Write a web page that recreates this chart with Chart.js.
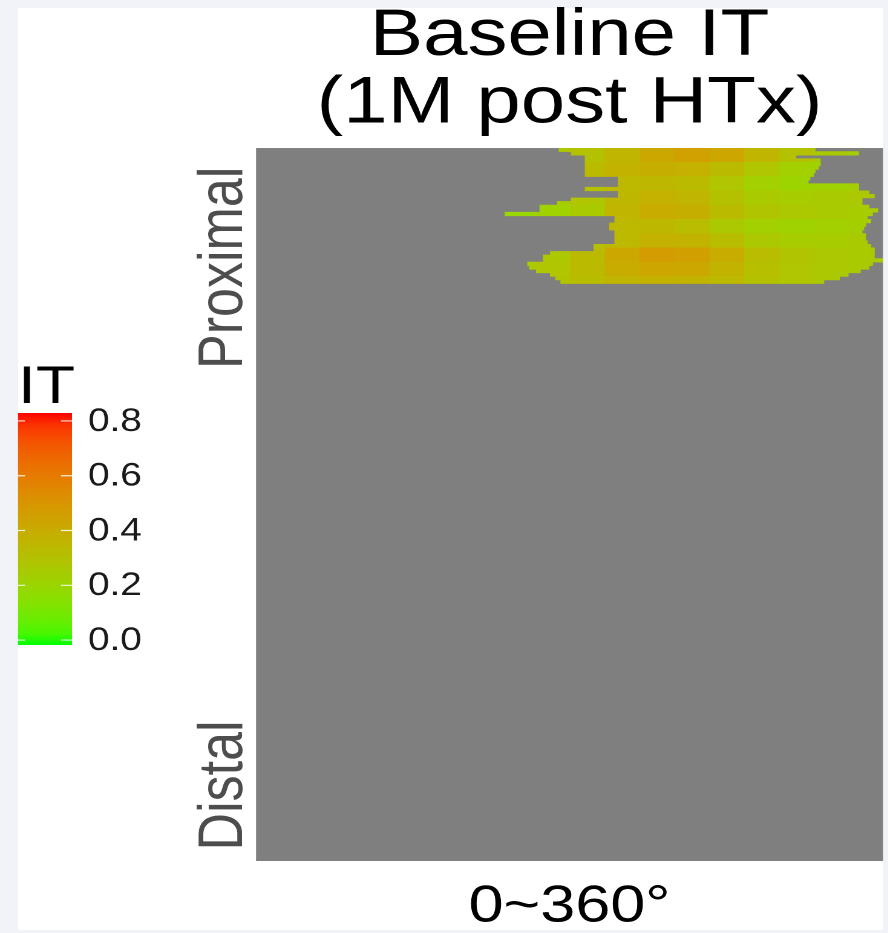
<!DOCTYPE html>
<html>
<head>
<meta charset="utf-8">
<script src="https://cdn.jsdelivr.net/npm/chart.js@4.4.1/dist/chart.umd.min.js"></script>
<style>
  body { margin: 0; background: #f2f3f8; width: 888px; height: 933px; overflow: hidden; position: relative; }
  #panel { position: absolute; left: 18px; top: 8px; width: 865px; height: 922px; background: #ffffff; }
  #wrap { position: absolute; left: 0; top: 0; width: 734px; height: 933px; transform: scaleX(1.21); transform-origin: 0 0; }
</style>
</head>
<body>
<div id="panel"></div>
<div id="wrap"><canvas id="itChart" width="734" height="933"></canvas></div>
<script>
// Rows along the graft length, 0.5% each, proximal at the top
const rowStep = 0.5;
const rowLabels = [];
for (let i = 0; i < 200; i++) rowLabels.push(i * rowStep);

const rowStart = [174, 181, 189, 189, 189, 189, 189, 189, 208, 208, 208, 189, 208, 208, 181, 173, 163, 163, 143,
  206, 206, 203, 203, 206, 206, 206, 206, 194, 194, 169, 165, 165, 156, 157, 161, 169, 172, 175];
const rowEnd = [321, 346, 310, 324, 324, 323, 321, 320, 318, 317, 346, 346, 352, 355, 348, 348, 352, 357, 354,
  351, 353, 350, 349, 348, 350, 350, 351, 353, 355, 355, 355, 360, 354, 352, 347, 340, 335, 326];

// IT values: one row per 2% of length, one column per 20 degree bin
const angleBins = [140, 160, 180, 200, 220, 240, 260, 280, 300, 320, 340];
const binWidth = 20;
const rowsPerBand = 4;
const itGrid = [
  [0.25, 0.27, 0.30, 0.36, 0.42, 0.45, 0.43, 0.36, 0.30, 0.26, 0.24],
  [0.25, 0.27, 0.33, 0.37, 0.39, 0.38, 0.33, 0.28, 0.23, 0.22, 0.22],
  [0.24, 0.26, 0.30, 0.34, 0.35, 0.33, 0.28, 0.23, 0.21, 0.22, 0.24],
  [0.23, 0.25, 0.28, 0.35, 0.38, 0.36, 0.30, 0.26, 0.25, 0.26, 0.27],
  [0.20, 0.22, 0.26, 0.36, 0.40, 0.39, 0.33, 0.29, 0.27, 0.26, 0.25],
  [0.22, 0.24, 0.28, 0.34, 0.35, 0.32, 0.27, 0.23, 0.22, 0.23, 0.24],
  [0.24, 0.26, 0.30, 0.34, 0.38, 0.37, 0.32, 0.27, 0.25, 0.25, 0.26],
  [0.24, 0.27, 0.33, 0.42, 0.47, 0.46, 0.40, 0.32, 0.29, 0.27, 0.26],
  [0.25, 0.28, 0.33, 0.40, 0.43, 0.42, 0.37, 0.31, 0.28, 0.27, 0.26],
  [0.26, 0.29, 0.32, 0.36, 0.38, 0.37, 0.34, 0.30, 0.28, 0.27, 0.26]
];

// Colour bar
const legendTicks = [0.0, 0.2, 0.4, 0.6, 0.8];
const legendRange = [-0.018, 0.829];
const sideLabels = ['Proximal', 'Distal'];
const sideLabelPos = [16.8, 89.4]; // % of length

// green -> red gradient interpolated in CIELAB (like ggplot)
function toLin(c) { c /= 255; return c <= 0.04045 ? c / 12.92 : Math.pow((c + 0.055) / 1.055, 2.4); }
function fromLin(c) {
  c = c <= 0.0031308 ? 12.92 * c : 1.055 * Math.pow(c, 1 / 2.4) - 0.055;
  return Math.round(Math.min(1, Math.max(0, c)) * 255);
}
function rgbToLab(rgb) {
  const [r, g, b] = rgb.map(toLin);
  let x = (0.4124 * r + 0.3576 * g + 0.1805 * b) / 0.95047;
  let y = (0.2126 * r + 0.7152 * g + 0.0722 * b);
  let z = (0.0193 * r + 0.1192 * g + 0.9505 * b) / 1.08883;
  const f = t => t > 0.008856 ? Math.cbrt(t) : 7.787 * t + 16 / 116;
  x = f(x); y = f(y); z = f(z);
  return [116 * y - 16, 500 * (x - y), 200 * (y - z)];
}
function labToRgb([L, a, bb]) {
  let y = (L + 16) / 116, x = a / 500 + y, z = y - bb / 200;
  const fi = t => t * t * t > 0.008856 ? t * t * t : (t - 16 / 116) / 7.787;
  x = fi(x) * 0.95047; y = fi(y); z = fi(z) * 1.08883;
  const r = 3.2406 * x - 1.5372 * y - 0.4986 * z;
  const g = -0.9689 * x + 1.8758 * y + 0.0415 * z;
  const b = 0.0557 * x - 0.2040 * y + 1.0570 * z;
  return [fromLin(r), fromLin(g), fromLin(b)];
}
const labLow = rgbToLab([0, 255, 0]);
const labHigh = rgbToLab([255, 0, 0]);
function itColor(v) {
  const t = Math.min(1, Math.max(0, (v - legendRange[0]) / (legendRange[1] - legendRange[0])));
  const c = labToRgb(labLow.map((l, k) => l + (labHigh[k] - l) * t));
  return 'rgb(' + c.join(',') + ')';
}

// one floating-bar dataset per angle bin, clipped to each row's extent
const datasets = angleBins.map((bin, b) => {
  const data = [];
  const colors = [];
  rowLabels.forEach((_, i) => {
    if (i < rowStart.length && rowStart[i] < bin + binWidth && rowEnd[i] > bin) {
      data.push([Math.max(bin, rowStart[i]), Math.min(bin + binWidth, rowEnd[i])]);
      colors.push(itColor(itGrid[Math.floor(i / rowsPerBand)][b]));
    } else {
      data.push(null);
      colors.push('rgba(0,0,0,0)');
    }
  });
  return {
    data: data,
    backgroundColor: colors,
    borderWidth: 0,
    grouped: false,
    barPercentage: 1,
    categoryPercentage: 1
  };
});

const panelBg = {
  id: 'panelBg',
  beforeDatasetsDraw(chart) {
    const {ctx, chartArea: a} = chart;
    ctx.save();
    ctx.fillStyle = '#7f7f7f';
    ctx.fillRect(a.left, a.top, a.right - a.left, a.bottom - a.top);
    ctx.restore();
  }
};

const sideAndLegend = {
  id: 'sideAndLegend',
  afterDraw(chart) {
    const {ctx} = chart;
    const yScale = chart.scales.y;
    ctx.save();

    // Proximal / Distal
    ctx.fillStyle = '#4d4d4d';
    ctx.font = '52px "Liberation Sans", Arial, sans-serif';
    ctx.textAlign = 'center';
    ctx.textBaseline = 'alphabetic';
    sideLabels.forEach((lab, k) => {
      ctx.save();
      ctx.translate(200, yScale.getPixelForDecimal(sideLabelPos[k] / 100));
      ctx.rotate(-Math.PI / 2);
      ctx.fillText(lab, 0, 0);
      ctx.restore();
    });

    // colour bar
    const barLeft = 14.9, barRight = 59.5, barTop = 413, barBottom = 645;
    const valToY = v => barBottom - (v - legendRange[0]) / (legendRange[1] - legendRange[0]) * (barBottom - barTop);
    const grad = ctx.createLinearGradient(0, barBottom, 0, barTop);
    for (let s = 0; s <= 20; s++) {
      grad.addColorStop(s / 20, itColor(legendRange[0] + (legendRange[1] - legendRange[0]) * s / 20));
    }
    ctx.fillStyle = grad;
    ctx.fillRect(barLeft, barTop, barRight - barLeft, barBottom - barTop);

    ctx.strokeStyle = 'rgba(255,255,255,0.85)';
    ctx.lineWidth = 1.2;
    ctx.fillStyle = '#1a1a1a';
    ctx.font = '32px "Liberation Sans", Arial, sans-serif';
    ctx.textAlign = 'left';
    ctx.textBaseline = 'middle';
    legendTicks.forEach(v => {
      const y = valToY(v);
      ctx.beginPath();
      ctx.moveTo(barLeft, y); ctx.lineTo(20.7, y);
      ctx.moveTo(50.4, y); ctx.lineTo(barRight, y);
      ctx.stroke();
      ctx.fillText(v.toFixed(1), 72.7, y + 1);
    });

    ctx.fillStyle = '#000000';
    ctx.font = '53px "Liberation Sans", Arial, sans-serif';
    ctx.textBaseline = 'alphabetic';
    ctx.fillText('IT', 14.9, 403);
    ctx.restore();
  }
};

new Chart(document.getElementById('itChart'), {
  type: 'bar',
  data: { labels: rowLabels, datasets: datasets },
  options: {
    indexAxis: 'y',
    responsive: false,
    devicePixelRatio: 2,
    animation: false,
    layout: { padding: { left: 211.6, right: 4.25, top: 0, bottom: 0 } },
    plugins: {
      legend: { display: false },
      tooltip: { enabled: false },
      title: {
        display: true,
        fullSize: false,
        text: ['Baseline IT', '(1M post HTx)'],
        color: '#000000',
        font: { family: '"Liberation Sans", Arial, sans-serif', size: 66, weight: 'normal', lineHeight: 1.023 },
        padding: { top: 3, bottom: 10 }
      }
    },
    scales: {
      x: {
        type: 'linear',
        min: 0,
        max: 360,
        grid: { display: false, drawTicks: false },
        border: { display: false },
        ticks: { display: false },
        title: {
          display: true,
          text: '0~360°',
          color: '#000000',
          font: { family: '"Liberation Sans", Arial, sans-serif', size: 52, lineHeight: 1 },
          padding: { top: 20, bottom: 0 }
        }
      },
      y: {
        type: 'category',
        display: false
      }
    }
  },
  plugins: [panelBg, sideAndLegend]
});
</script>
</body>
</html>
